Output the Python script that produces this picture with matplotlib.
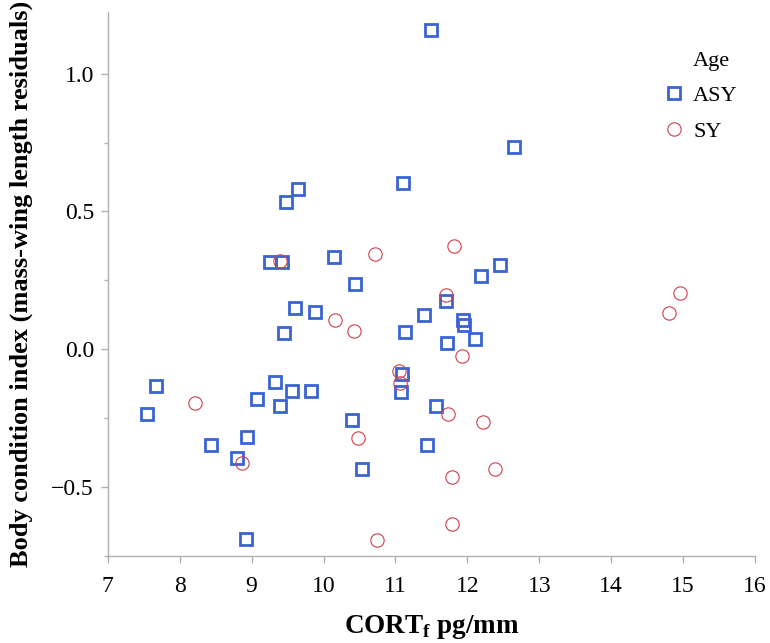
import matplotlib
matplotlib.use("Agg")
import matplotlib.pyplot as plt
from matplotlib.ticker import MultipleLocator

# CORT_f (pg/mm) and body condition index
asy_cort = [11.49, 12.65, 11.11, 9.65, 9.48, 9.26, 9.42, 10.15, 10.44, 12.46,
            12.19, 11.71, 9.60, 9.88, 9.45, 11.13, 11.40, 11.94, 11.96, 12.10,
            11.72, 11.09, 11.08, 7.67, 7.54, 9.33, 9.08, 9.56, 9.83, 9.40,
            10.40, 8.93, 8.44, 8.79, 10.54, 8.92, 11.56, 11.44]
asy_bci = [1.158, 0.733, 0.602, 0.580, 0.533, 0.317, 0.317, 0.333, 0.236, 0.305,
           0.265, 0.175, 0.151, 0.133, 0.060, 0.063, 0.123, 0.105, 0.087, 0.035,
           0.021, -0.091, -0.155, -0.133, -0.236, -0.119, -0.180, -0.151, -0.151, -0.207,
           -0.259, -0.318, -0.349, -0.395, -0.436, -0.691, -0.207, -0.349]

sy_cort = [11.81, 11.71, 14.96, 9.39, 10.71, 10.16, 10.43, 11.05, 11.07, 8.21,
           10.48, 8.87, 10.75, 14.80, 11.92, 11.73, 12.22, 12.39, 11.78, 11.78]
sy_bci = [0.375, 0.196, 0.204, 0.321, 0.347, 0.106, 0.065, -0.079, -0.122, -0.197,
          -0.322, -0.412, -0.694, 0.130, -0.024, -0.237, -0.266, -0.436, -0.464, -0.635]

blue = '#3a64d4'
red = '#cf3f4c'
axis_grey = '#b0b0b0'

plt.rcParams['font.family'] = ['Liberation Serif', 'DejaVu Serif']
plt.rcParams['mathtext.fontset'] = 'custom'
plt.rcParams['mathtext.rm'] = 'Liberation Serif'
plt.rcParams['mathtext.bf'] = 'Liberation Serif:bold'

fig = plt.figure(figsize=(7.7, 6.43), dpi=100)
ax = fig.add_axes([0.140, 0.136, 0.8405, 0.846])

ax.plot(asy_cort, asy_bci, linestyle='none', marker='s', markersize=8.2,
        markerfacecolor='none', markeredgecolor=blue, markeredgewidth=2.0, label='ASY')
ax.plot(sy_cort, sy_bci, linestyle='none', marker='o', markersize=9.6,
        markerfacecolor='none', markeredgecolor=red, markeredgewidth=0.8, label='SY')

ax.set_xlim(7, 16)
ax.set_ylim(-0.75, 1.226)
ax.xaxis.set_major_locator(MultipleLocator(1))
ax.yaxis.set_minor_locator(MultipleLocator(0.25))
ax.set_yticks([-0.5, 0.0, 0.5, 1.0])
ax.set_yticklabels(['\u22120.5', '0.0', '0.5', '1.0'])

for side in ['top', 'right']:
    ax.spines[side].set_visible(False)
for side in ['left', 'bottom']:
    ax.spines[side].set_color(axis_grey)
    ax.spines[side].set_linewidth(1.0)

ax.tick_params(axis='both', which='major', length=5, width=1.0, color=axis_grey,
               labelsize=17)
ax.tick_params(axis='x', which='major', pad=10)
ax.tick_params(axis='y', which='major', pad=5)
ax.tick_params(axis='y', which='minor', length=3, width=1.0, color=axis_grey)

ax.set_xlabel('CORT$_{\\mathbf{f}}$ pg/mm', fontsize=19.5, fontweight='bold', labelpad=11)
ax.set_ylabel('Body condition index (mass-wing length residuals)', fontsize=19,
              fontweight='bold', labelpad=13)

leg = ax.legend(loc='upper left', bbox_to_anchor=(663 / 770, 1 - 85 / 643),
                bbox_transform=fig.transFigure, frameon=False, fontsize=16,
                borderpad=0, borderaxespad=0, handletextpad=0.36,
                labelspacing=0.72, handlelength=1.0)
fig.text(693 / 770, 1 - 66 / 643, 'Age', fontsize=16, ha='left', va='baseline')

fig.savefig('out.png', dpi=100)
